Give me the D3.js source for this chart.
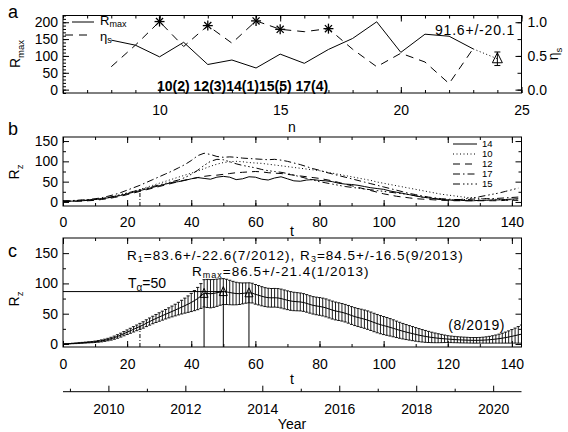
<!DOCTYPE html>
<html>
<head>
<meta charset="utf-8">
<script src="https://cdn.jsdelivr.net/npm/d3@7"></script>
<style>
  body { margin: 0; background: #fff; }
  svg { display: block; }
</style>
</head>
<body>
<svg id="chart" width="568" height="432"></svg>
<script>
// ---------------- data ----------------
// (a) cycle maxima and similarity index eta_s per cycle number n
const cycleN    = [8, 9, 10, 11, 12, 13, 14, 15, 16, 17, 18, 19, 20, 21, 22, 23];
const cycleRmax = [146.9, 131.9, 97.3, 140.5, 74.6, 87.9, 64.2, 105.4, 78.1, 119.2, 151.8, 201.3, 110.6, 164.5, 158.5, 120.8];
const cycleEta  = [0.34, 0.66, 1.01, 0.64, 0.95, 0.69, 1.02, 0.895, 0.86, 0.905, 0.60, 0.34, 0.54, 0.41, 0.09, 0.61];
const similarCycles = [10, 12, 14, 15, 17];
const rankText = "10(2) 12(3)14(1)15(5) 17(4)";
const predN = 24, predR = 91.6, predErr = 20.1;

// (b) monthly smoothed sunspot numbers of the similar cycles, every 2 months from cycle start
const cycleKeys = ["14", "10", "12", "17", "15"];
const c14 = [1,2,2,3,4,6,8,10,13,16, 20,24,28,32,36,40,44,48,50,53, 57,60,58,56,61,63,61,55,57,62, 61,56,54,59,62,57,52,51,54,55, 53,52,50,46,44,43,41,38,35,33, 31,27,24,21,18,15,12,10,8,6, 5,4,4,3,3,4,4,5,5,6, 7,8];
const c10 = [2,2,3,4,5,6,8,11,14,18, 22,26,31,36,41,46,51,56,61,66, 71,76,82,88,93,97,99,100,99,97, 96,95,93,91,89,87,85,83,81,79, 77,74,71,68,65,62,59,56,53,49, 46,43,40,37,34,31,28,25,22,19, 17,15,13,11,10,9,8,7,6,6, 5,5];
const c12 = [1,1,2,2,3,4,6,8,11,14, 18,22,26,30,34,38,42,46,50,54, 57,60,63,65,66,68,70,72,73,74, 75,74,72,71,70,68,66,64,62,60, 58,55,52,48,44,40,36,32,28,24, 20,17,14,12,10,8,7,6,5,4, 4,3,3,3,3,3,3,3,3,4, 4,4];
const c17 = [3,3,4,5,6,8,10,14,18,23, 29,35,41,48,55,62,69,76,84,92, 102,114,120,117,112,110,111,110,108,107, 106,105,104,105,103,100,96,92,87,82, 78,73,69,65,61,57,53,49,45,41, 37,33,29,25,21,18,15,12,10,8, 7,6,6,6,7,7,8,8,9,10, 11,12];
const c15 = [2,2,3,4,5,6,8,11,14,18, 22,26,30,34,38,42,46,50,54,60, 68,78,90,100,105,104,99,94,90,87, 84,80,77,75,73,70,66,62,58,54, 50,47,44,41,38,36,34,32,30,28, 26,24,22,20,18,15,12,10,8,6, 5,5,6,8,10,13,16,19,22,26, 30,34];
const cycleSeries = { "14": c14, "10": c10, "12": c12, "17": c17, "15": c15 };

// (c) mean and standard deviation of the similar cycles, monthly
const meanRz = [
  0.0,0.2,0.5,0.8,1.1,1.5,1.9,2.3,2.7,3.1,
  3.6,4.3,5.1,6.1,7.3,8.7,10.4,12.4,14.6,17.0,
  19.4,21.8,24.2,26.6,29.0,31.4,34.3,37.0,39.6,42.1,
  44.5,46.8,49.1,51.4,53.7,56.0,58.4,60.8,63.3,65.8,
  68.5,71.6,75.0,79.2,83.6,83.4,83.0,83.5,84.6,85.8,
  86.5,86.0,85.0,84.0,83.3,83.1,83.5,84.1,84.5,84.0,
  82.0,80.5,78.8,77.4,76.5,76.2,76.3,76.0,75.0,73.6,
  72.2,71.0,70.2,69.8,69.4,68.5,67.0,65.3,63.8,62.8,
  62.0,61.0,59.6,57.8,56.0,54.5,53.4,52.3,50.8,49.0,
  47.0,45.2,43.7,42.4,41.0,39.4,37.5,35.5,33.6,31.9,
  30.4,29.0,27.5,25.9,24.2,22.6,21.1,19.7,18.4,17.1,
  15.8,14.6,13.5,12.5,11.6,10.8,10.1,9.5,9.0,8.5,
  8.1,7.7,7.3,7.0,6.7,6.5,6.3,6.1,6.0,6.0,
  6.1,6.3,6.6,7.0,7.5,8.1,8.8,9.6,10.5,11.5,
  12.6,13.8,15.0,16.3];
const sdRz = [
  0,0.2,0.3,0.4,0.5,0.6,0.7,0.8,0.9,1.0,
  1.2,1.4,1.6,1.8,2.0,2.3,2.6,2.9,3.2,3.5,
  3.8,4.1,4.4,4.7,5.0,5.3,5.6,5.9,6.2,6.6,
  7.0,7.4,7.8,8.3,8.9,9.6,10.4,11.3,12.4,13.6,
  15.0,16.6,18.4,20.5,22.6,23.2,23.3,23.0,22.5,21.9,
  21.4,20.9,20.2,19.4,18.6,17.9,17.3,16.8,16.5,16.3,
  16.2,16.0,15.8,15.6,15.5,15.4,15.4,15.5,15.6,15.6,
  15.5,15.4,15.2,15.0,14.8,14.6,14.5,14.4,14.4,14.5,
  14.6,14.7,14.8,14.8,14.8,14.7,14.6,14.5,14.5,14.6,
  14.7,14.8,14.9,15.0,15.1,15.2,15.2,15.2,15.1,15.0,
  14.9,14.7,14.4,14.0,13.6,13.2,12.8,12.4,12.0,11.6,
  11.2,10.8,10.3,9.8,9.2,8.6,8.0,7.4,6.8,6.2,
  5.6,5.4,5.2,5.0,4.9,4.8,4.7,4.6,4.6,4.6,
  4.7,4.9,5.2,5.6,6.1,6.7,7.4,8.2,9.1,10.1,
  11.2,12.4,13.7,15.0];
// marked epochs
const peakT   = [44, 50, 58];
const peakR   = [83.6, 86.5, 84.5];
const peakErr = [22.6, 21.4, 16.5];
const peakDate = ["7/2012", "1/2013", "9/2013"];
const tAlpha = 50;
const tNow = 24;
const minDate = "8/2019";
const minT = 129;

// calendar
const yearAtT0 = 2008.82;
const tMax = 143;
const yearTicks = [2010, 2012, 2014, 2016, 2018, 2020];
const yearMinor = [2009, 2011, 2013, 2015, 2017, 2019];

// ---------------- layout ----------------
const svg = d3.select("#chart");
const FONT = '"Liberation Sans", Arial, Helvetica, sans-serif';
const X0 = 63, X1 = 521.5;
const A = { top: 15.5, bot: 93 };
const B = { top: 137, bot: 206 };
const C = { top: 238, bot: 347 };
const YEAR_AXIS = 391.7;

const xN = d3.scaleLinear([6, 25], [X0, X1]);
const yR = d3.scaleLinear([-10, 220], [A.bot, A.top]);
const yEta = d3.scaleLinear([-0.05, 1.1], [A.bot, A.top]);
const xT = d3.scaleLinear([0, tMax], [X0, X1]);
const yB = d3.scaleLinear([-10, 160], [B.bot, B.top]);
const yC = d3.scaleLinear([-5, 175], [C.bot, C.top]);
const xYear = d3.scaleLinear([yearAtT0, yearAtT0 + tMax / 12], [X0, X1]);

function addAxis(gen, scale, vals, len, fmt, pad, tx, ty) {
  const ax = gen(scale).tickValues(vals).tickSizeInner(-len).tickSizeOuter(0)
    .tickPadding(pad).tickFormat(fmt || (() => ""));
  const g = svg.append("g").attr("transform", `translate(${tx},${ty})`).call(ax);
  g.select(".domain").remove();
  g.attr("font-size", 14).attr("font-family", FONT);
  g.selectAll("line").attr("stroke", "#000").attr("stroke-width", 1);
  g.selectAll("text").attr("fill", "#000");
  return g;
}
function frame(p) {
  svg.append("rect").attr("x", X0).attr("y", p.top).attr("width", X1 - X0)
    .attr("height", p.bot - p.top).attr("fill", "none").attr("stroke", "#000").attr("stroke-width", 1);
}
function text(x, y, s, size, opts = {}) {
  const t = svg.append("text").attr("x", x).attr("y", y).attr("font-family", FONT)
    .attr("font-size", size).attr("fill", "#000").text(s);
  if (opts.anchor) t.attr("text-anchor", opts.anchor);
  if (opts.weight) t.attr("font-weight", opts.weight);
  if (opts.ls) t.attr("letter-spacing", opts.ls);
  return t;
}
// text with a subscript part, optionally rotated
function subText(x, y, main, sub, size, rotate, subSize, subDy) {
  const t = svg.append("text").attr("font-family", FONT).attr("font-size", size).attr("fill", "#000");
  if (rotate) t.attr("transform", `translate(${x},${y}) rotate(${rotate})`).attr("text-anchor", "middle");
  else t.attr("x", x).attr("y", y);
  t.append("tspan").text(main);
  t.append("tspan").attr("font-size", subSize || size * 0.68).attr("dy", subDy || size * 0.25).text(sub);
  return t;
}

// ================= panel a =================
frame(A);
addAxis(d3.axisBottom, xN, d3.range(6, 26), 3, null, 0, 0, A.bot);
addAxis(d3.axisBottom, xN, [10, 15, 20, 25], 6, d3.format("d"), 12, 0, A.bot);
addAxis(d3.axisTop, xN, d3.range(6, 26), 3, null, 0, 0, A.top);
addAxis(d3.axisTop, xN, [10, 15, 20, 25], 6, null, 0, 0, A.top);
addAxis(d3.axisLeft, yR, d3.range(-10, 221, 10), 3, null, 0, X0, 0);
addAxis(d3.axisLeft, yR, [0, 50, 100, 150, 200], 6, d3.format("d"), 5, X0, 0);
addAxis(d3.axisRight, yEta, [0, 0.25, 0.5, 0.75, 1.0], 4, null, 0, X1, 0);
addAxis(d3.axisRight, yEta, [0, 0.5, 1.0], 6, d3.format(".1f"), 6, X1, 0);

const rLine = d3.line().x((d, i) => xN(cycleN[i])).y(d => yR(d));
svg.append("path").attr("d", rLine(cycleRmax)).attr("fill", "none").attr("stroke", "#000");
const eLine = d3.line().x((d, i) => xN(cycleN[i])).y(d => yEta(d));
svg.append("path").attr("d", eLine(cycleEta)).attr("fill", "none").attr("stroke", "#000")
  .attr("stroke-dasharray", "8,6");
// extrapolation to the predicted cycle
const lastN = cycleN[cycleN.length - 1], lastR = cycleRmax[cycleRmax.length - 1];
svg.append("line").attr("x1", xN(lastN)).attr("y1", yR(lastR)).attr("x2", xN(predN)).attr("y2", yR(predR))
  .attr("stroke", "#000").attr("stroke-dasharray", "1,2.5");
// predicted maximum with its error bar
const px = xN(predN), py = yR(predR);
svg.append("line").attr("x1", px).attr("x2", px).attr("y1", yR(predR + predErr)).attr("y2", yR(predR - predErr)).attr("stroke", "#000");
[predR + predErr, predR - predErr].forEach(v =>
  svg.append("line").attr("x1", px - 3).attr("x2", px + 3).attr("y1", yR(v)).attr("y2", yR(v)).attr("stroke", "#000"));
svg.append("path").attr("d", `M${px},${py - 6}L${px + 5},${py + 4}L${px - 5},${py + 4}Z`)
  .attr("fill", "none").attr("stroke", "#000");
// asterisks on the most similar cycles
similarCycles.forEach(n => {
  const i = cycleN.indexOf(n);
  const cx = xN(n), cy = yEta(cycleEta[i]), r = 5;
  const g = svg.append("g").attr("stroke", "#000").attr("stroke-width", 1.3);
  [0, 45, 90, 135].forEach(a => {
    const dx = r * Math.cos(a * Math.PI / 180), dy = r * Math.sin(a * Math.PI / 180);
    g.append("line").attr("x1", cx - dx).attr("y1", cy - dy).attr("x2", cx + dx).attr("y2", cy + dy);
  });
});
text(157, 91, rankText, 14, { weight: "bold" });
text(435, 35, `${predR}+/-${predErr}`, 14, { ls: 0.8 });
// legend
svg.append("line").attr("x1", 72).attr("x2", 94).attr("y1", 22).attr("y2", 22).attr("stroke", "#000");
subText(100, 24.5, "R", "max", 13, null, 9, 2.5);
svg.append("line").attr("x1", 65).attr("x2", 92).attr("y1", 35).attr("y2", 35).attr("stroke", "#000").attr("stroke-dasharray", "8,6");
subText(100, 40.5, "\u03b7", "s", 13, null, 9, 2.5);
// axis titles
subText(20, 54, "R", "max", 14, -90);
subText(558, 54, "\u03b7", "s", 14, -90);
text(292, 132, "n", 14, { anchor: "middle" });
text(8, 18, "a", 18);

// ================= panel b =================
frame(B);
const tTicks = d3.range(0, 141, 20), tMinor = d3.range(0, 144, 10);
addAxis(d3.axisBottom, xT, tMinor, 3, null, 0, 0, B.bot);
addAxis(d3.axisBottom, xT, tTicks, 6, d3.format("d"), 11, 0, B.bot);
addAxis(d3.axisTop, xT, tMinor, 3, null, 0, 0, B.top);
addAxis(d3.axisTop, xT, tTicks, 6, null, 0, 0, B.top);
addAxis(d3.axisLeft, yB, [25, 75, 125], 3, null, 0, X0, 0);
addAxis(d3.axisLeft, yB, [0, 50, 100, 150], 6, d3.format("d"), 5, X0, 0);
addAxis(d3.axisRight, yB, [25, 75, 125], 3, null, 0, X1, 0);
addAxis(d3.axisRight, yB, [0, 50, 100, 150], 6, null, 0, X1, 0);

const dashes = { "14": null, "10": "1,2.5", "12": "7,5", "17": "7,3,1.5,3", "15": "7,3,1.5,2.5,1.5,2.5,1.5,3" };
const bLine = d3.line().x((d, i) => xT(i * 2)).y(d => yB(d));
cycleKeys.forEach(k => {
  svg.append("path").attr("d", bLine(cycleSeries[k])).attr("fill", "none").attr("stroke", "#000")
    .attr("stroke-width", 1).attr("stroke-dasharray", dashes[k]);
});
svg.append("line").attr("x1", xT(tNow)).attr("x2", xT(tNow)).attr("y1", B.bot).attr("y2", yB(meanRz[tNow]))
  .attr("stroke", "#000").attr("stroke-dasharray", "4,2,1,2");
cycleKeys.forEach((k, i) => {
  const y = 144 + i * 10;
  svg.append("line").attr("x1", 453).attr("x2", 477).attr("y1", y).attr("y2", y).attr("stroke", "#000")
    .attr("stroke-dasharray", dashes[k]);
  text(482, y + 3.3, k, 9.5);
});
subText(19, 172, "R", "z", 14, -90);
text(292, 236, "t", 14, { anchor: "middle" });
text(8, 135, "b", 18);

// ================= panel c =================
frame(C);
addAxis(d3.axisBottom, xT, tMinor, 3, null, 0, 0, C.bot);
addAxis(d3.axisBottom, xT, tTicks, 6, d3.format("d"), 12, 0, C.bot);
addAxis(d3.axisTop, xT, tMinor, 3, null, 0, 0, C.top);
addAxis(d3.axisTop, xT, tTicks, 6, null, 0, 0, C.top);
addAxis(d3.axisLeft, yC, [25, 75, 125], 3, null, 0, X0, 0);
addAxis(d3.axisLeft, yC, [0, 50, 100, 150], 6, d3.format("d"), 5, X0, 0);
addAxis(d3.axisRight, yC, [25, 75, 125], 3, null, 0, X1, 0);
addAxis(d3.axisRight, yC, [0, 50, 100, 150], 6, null, 0, X1, 0);

svg.append("clipPath").attr("id", "clipC").append("rect")
  .attr("x", X0).attr("y", C.top).attr("width", X1 - X0).attr("height", C.bot - C.top);
const gc = svg.append("g").attr("clip-path", "url(#clipC)");
// error bars: mean +/- sigma every month
meanRz.forEach((m, t) => {
  const x = xT(t), s = sdRz[t];
  gc.append("line").attr("x1", x).attr("x2", x).attr("y1", yC(m + s)).attr("y2", yC(m - s))
    .attr("stroke", "#000").attr("stroke-width", 0.9);
  [m + s, m - s].forEach(v => gc.append("line").attr("x1", x - 1.6).attr("x2", x + 1.6)
    .attr("y1", yC(v)).attr("y2", yC(v)).attr("stroke", "#000").attr("stroke-width", 0.9));
});
const cLine = d3.line().x((d, t) => xT(t)).y(d => yC(d));
gc.append("path").attr("d", cLine(meanRz)).attr("fill", "none").attr("stroke", "#000");
// level of the maximum, and the marked epochs
const iMax = peakT.indexOf(tAlpha);
gc.append("line").attr("x1", X0).attr("x2", xT(tAlpha)).attr("y1", yC(peakR[iMax])).attr("y2", yC(peakR[iMax]))
  .attr("stroke", "#000");
peakT.forEach((t, i) => {
  const x = xT(t), y = yC(peakR[i]);
  gc.append("line").attr("x1", x).attr("x2", x).attr("y1", C.bot).attr("y2", y).attr("stroke", "#000");
  gc.append("path").attr("d", `M${x},${y - 5}L${x + 4},${y + 4}L${x - 4},${y + 4}Z`)
    .attr("fill", "none").attr("stroke", "#000");
});
gc.append("line").attr("x1", xT(tNow)).attr("x2", xT(tNow)).attr("y1", C.bot).attr("y2", yC(meanRz[tNow]))
  .attr("stroke", "#000").attr("stroke-dasharray", "4,2,1,2");

// annotations
const l1 = svg.append("text").attr("x", 127).attr("y", 260).attr("font-family", FONT)
  .attr("font-size", 13.5).attr("letter-spacing", 1).attr("fill", "#000");
l1.append("tspan").text("R");
l1.append("tspan").attr("font-size", 9).attr("dy", 2).text("1");
l1.append("tspan").attr("dy", -2).text(`=${peakR[0]}+/-${peakErr[0]}(${peakDate[0]}),  R`);
l1.append("tspan").attr("font-size", 9).attr("dy", 2).text("3");
l1.append("tspan").attr("dy", -2).text(`=${peakR[2]}+/-${peakErr[2]}(${peakDate[2]})`);
const l2 = svg.append("text").attr("x", 192).attr("y", 276).attr("font-family", FONT)
  .attr("font-size", 13.5).attr("letter-spacing", 1).attr("fill", "#000");
l2.append("tspan").text("R");
l2.append("tspan").attr("font-size", 9).attr("dy", 2).text("max");
l2.append("tspan").attr("dy", -2).text(`=${peakR[1]}+/-${peakErr[1]}(${peakDate[1]})`);
const l3 = svg.append("text").attr("x", 128).attr("y", 288).attr("font-family", FONT)
  .attr("font-size", 14).attr("fill", "#000");
l3.append("tspan").text("T");
l3.append("tspan").attr("font-size", 10).attr("dy", 3).text("\u03b1");
l3.append("tspan").attr("dy", -3).text(`=${tAlpha}`);
text(xT(minT), 330, `(${minDate})`, 14, { anchor: "middle", ls: 0.6 });
subText(19, 299, "R", "z", 14, -90);
text(292, 384, "t", 14, { anchor: "middle" });
text(8, 257, "c", 18);

// ================= calendar axis =================
svg.append("line").attr("x1", X0).attr("x2", X1).attr("y1", YEAR_AXIS).attr("y2", YEAR_AXIS).attr("stroke", "#000");
addAxis(d3.axisBottom, xYear, yearMinor, 3, null, 0, 0, YEAR_AXIS);
addAxis(d3.axisBottom, xYear, yearTicks, 6, d3.format("d"), 12, 0, YEAR_AXIS);
text(292, 429, "Year", 14, { anchor: "middle" });
</script>
</body>
</html>
